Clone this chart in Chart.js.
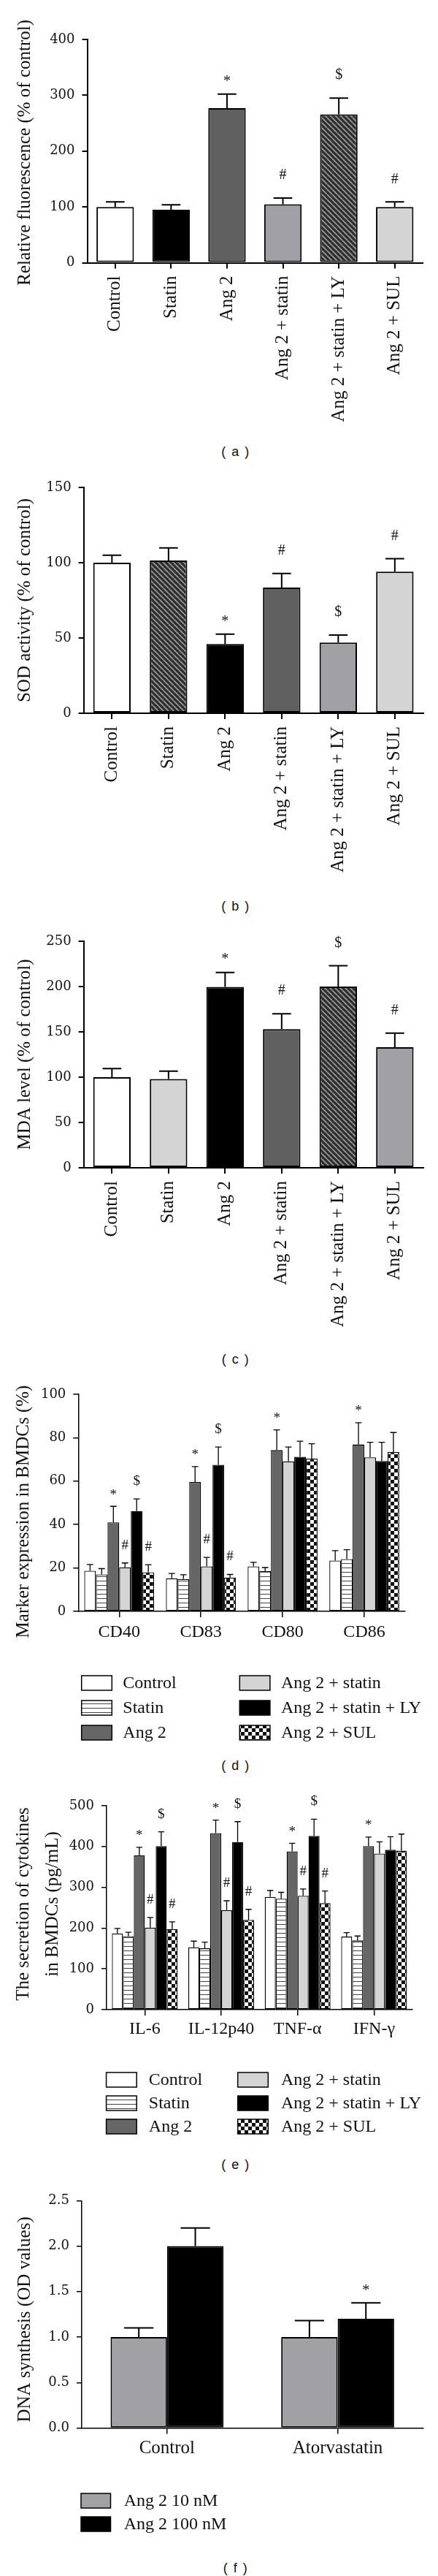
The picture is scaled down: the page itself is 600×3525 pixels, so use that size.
<!DOCTYPE html>
<html>
<head>
<meta charset="utf-8">
<title>Figure</title>
<script src="https://cdn.jsdelivr.net/npm/chart.js@4.4.1/dist/chart.umd.min.js"></script>
<style>
  html, body { margin:0; padding:0; background:#ffffff; }
  body { width:600px; height:3525px; position:relative; overflow:hidden; }
  canvas { position:absolute; left:0; }
  .tag { position:absolute; left:263px; width:120px; text-align:center; font-family:"Liberation Sans", Arial, sans-serif; font-size:18px; letter-spacing:1.5px; line-height:20px; color:#111; white-space:pre; }
</style>
</head>
<body>
<canvas id="chartA" width="600" height="600" style="top:0px"></canvas>
<canvas id="chartB" width="600" height="590" style="top:630px"></canvas>
<canvas id="chartC" width="600" height="590" style="top:1250px"></canvas>
<canvas id="chartD" width="600" height="530" style="top:1870px"></canvas>
<canvas id="chartE" width="600" height="515" style="top:2430px"></canvas>
<canvas id="chartF" width="600" height="515" style="top:2975px"></canvas>
<div class="tag" style="top:608px">( a )</div>
<div class="tag" style="top:1230px">( b )</div>
<div class="tag" style="top:1850px">( c )</div>
<div class="tag" style="top:2406px">( d )</div>
<div class="tag" style="top:2952px">( e )</div>
<div class="tag" style="top:3504px">( f )</div>
<script>
// ---------------- DATA ----------------
const treatmentGroups = ["Control", "Statin", "Ang 2", "Ang 2 + statin", "Ang 2 + statin + LY", "Ang 2 + SUL"];

// (a) Relative fluorescence
const fluorMean  = [100, 95, 277, 105, 266, 100];
const fluorErr   = [9, 9, 25, 11, 29, 9];
const fluorMarks = ["", "", "*", "#", "$", "#"];
const fluorTicks = [0, 100, 200, 300, 400];

// (b) SOD activity
const sodMean  = [100, 101.5, 46, 83.5, 47, 94];
const sodErr   = [5, 8.3, 6.5, 9.3, 5, 8.7];
const sodMarks = ["", "", "*", "#", "$", "#"];
const sodTicks = [0, 50, 100, 150];

// (c) MDA level
const mdaMean  = [100, 98, 199.5, 153, 200, 133];
const mdaErr   = [9.4, 8.6, 16, 17, 23, 15.6];
const mdaMarks = ["", "", "*", "#", "$", "#"];
const mdaTicks = [0, 50, 100, 150, 200, 250];

// (d) Marker expression
const markerNames = ["CD40", "CD83", "CD80", "CD86"];
const cdControl      = [18.7, 15.2, 20.7, 23.4];
const cdControlErr   = [2.9, 2.3, 1.9, 4.6];
const cdStatin       = [17.0, 14.9, 18.5, 24.1];
const cdStatinErr    = [2.7, 2.0, 1.7, 4.3];
const cdAng2         = [41.0, 59.6, 74.3, 76.9];
const cdAng2Err      = [7.4, 7.1, 9.3, 10.0];
const cdAng2Statin   = [20.3, 20.7, 69.1, 71.0];
const cdAng2StatinErr= [2.0, 4.2, 6.6, 6.9];
const cdLY           = [46.2, 67.5, 71.2, 69.3];
const cdLYErr        = [5.6, 8.2, 7.2, 8.6];
const cdSUL          = [18.0, 15.6, 70.4, 73.4];
const cdSULErr       = [3.5, 1.4, 6.8, 9.0];
const cdAng2Marks    = ["*", "*", "*", "*"];
const cdStatinMarks  = ["#", "#", "", ""];
const cdLYMarks      = ["$", "$", "", ""];
const cdSULMarks     = ["#", "#", "", ""];
const cdTicks = [0, 20, 40, 60, 80, 100];

// (e) Cytokines
const cytokineNames = ["IL-6", "IL-12p40", "TNF-\u03B1", "IFN-\u03B3"];
const ckControl      = [187, 153, 276.5, 179];
const ckControlErr   = [12, 15, 15.6, 10];
const ckStatin       = [180, 150.4, 272, 169.6];
const ckStatinErr    = [9.6, 15, 15.6, 11];
const ckAng2         = [378, 433, 388, 401];
const ckAng2Err      = [20, 32, 20, 22];
const ckAng2Statin   = [201, 244, 279, 382.6];
const ckAng2StatinErr= [25, 23, 17, 29];
const ckLY           = [401, 411, 426, 392];
const ckLYErr        = [35, 50, 41, 32];
const ckSUL          = [197.4, 220, 261, 389.6];
const ckSULErr       = [18, 26, 30, 41];
const ckAng2Marks    = ["*", "*", "*", "*"];
const ckStatinMarks  = ["#", "#", "#", ""];
const ckLYMarks      = ["$", "$", "$", ""];
const ckSULMarks     = ["#", "#", "#", ""];
const ckTicks = [0, 100, 200, 300, 400, 500];

// (f) DNA synthesis
const dnaGroups   = ["Control", "Atorvastatin"];
const dnaSeries   = ["Ang 2 10 nM", "Ang 2 100 nM"];
const dna10       = [1.0, 1.0];
const dna10Err    = [0.1, 0.18];
const dna100      = [2.0, 1.2];
const dna100Err   = [0.2, 0.175];
const dna100Marks = ["", "*"];
const dnaTicks = [0, 0.5, 1.0, 1.5, 2.0, 2.5];

// ---------------- STYLE ----------------
const TEXT_FONT = "'Liberation Serif', 'Times New Roman', serif";
const NUM_FONT = "'DejaVu Serif', serif";

function makePattern(w, h, draw) {
  const c = document.createElement('canvas');
  c.width = w; c.height = h;
  const g = c.getContext('2d');
  draw(g, w, h);
  return g.createPattern(c, 'repeat');
}
const HATCH = makePattern(7, 7, (g, w, h) => {
  g.fillStyle = '#2e2e2e'; g.fillRect(0, 0, w, h);
  g.strokeStyle = '#9c9c9c'; g.lineWidth = 1.7;
  for (const o of [-w, 0, w]) { g.beginPath(); g.moveTo(o, 0); g.lineTo(o + w, h); g.stroke(); }
});
const HLINES = makePattern(8, 6, (g, w, h) => {
  g.fillStyle = '#ffffff'; g.fillRect(0, 0, w, h);
  g.fillStyle = '#444444'; g.fillRect(0, h - 1, w, 1);
});
const CHECKER = makePattern(10, 10, (g, w, h) => {
  g.fillStyle = '#ffffff'; g.fillRect(0, 0, w, h);
  g.fillStyle = '#111111'; g.fillRect(0, 0, 5, 5); g.fillRect(5, 5, 5, 5);
});
const WHITE = '#ffffff', BLACK = '#000000', DARK = '#606060', MID = '#a1a1a5', LIGHT = '#d4d4d4';

// ---------------- PLUGINS ----------------
const errorBarPlugin = {
  id: 'errorBars',
  afterDatasetsDraw(chart, args, o) {
    const ctx = chart.ctx, ys = chart.scales.y;
    chart.data.datasets.forEach((ds, di) => {
      const meta = chart.getDatasetMeta(di);
      meta.data.forEach((bar, i) => {
        const p = bar.getProps(['x', 'y', 'width'], true);
        const yTop = ys.getPixelForValue(ds.data[i] + ds.errors[i]);
        const half = p.width * o.cap / 2;
        ctx.save();
        ctx.strokeStyle = '#000'; ctx.lineWidth = o.lw;
        ctx.beginPath();
        ctx.moveTo(p.x, p.y); ctx.lineTo(p.x, yTop);
        ctx.moveTo(p.x - half, yTop); ctx.lineTo(p.x + half, yTop);
        ctx.stroke();
        const m = ds.marks ? ds.marks[i] : '';
        if (m) {
          ctx.fillStyle = '#111';
          ctx.font = o.size + "px " + TEXT_FONT;
          ctx.textAlign = 'center'; ctx.textBaseline = 'middle';
          const off = m === '*' ? o.star - 0.12 * o.size : o.other;
          ctx.fillText(m, p.x, yTop - off);
        }
        ctx.restore();
      });
    });
  }
};

const yTitlePlugin = {
  id: 'yTitle',
  afterDraw(chart, args, o) {
    if (!o.lines || !o.lines.length) return;
    const ctx = chart.ctx, ca = chart.chartArea;
    const cy = (ca.top + ca.bottom) / 2 + o.shift;
    ctx.save();
    ctx.fillStyle = '#111';
    ctx.font = o.size + "px " + TEXT_FONT;
    ctx.textAlign = 'center'; ctx.textBaseline = 'middle';
    for (let i = 0; i < o.lines.length; i++) {
      ctx.save();
      ctx.translate(o.x + i * o.gap, cy);
      ctx.rotate(-Math.PI / 2);
      ctx.fillText(o.lines[i], 0, 0);
      ctx.restore();
    }
    ctx.restore();
  }
};

const panelLegendPlugin = {
  id: 'panelLegend',
  afterDraw(chart, args, o) {
    if (!o.rows || !o.rows.length) return;
    const ctx = chart.ctx;
    const nRows = o.rows.length;
    chart.data.datasets.forEach((ds, i) => {
      const col = Math.floor(i / nRows), row = i % nRows;
      const cy = o.rows[row] - o.top;
      const bx = o.boxX[col];
      ctx.save();
      ctx.fillStyle = ds.backgroundColor;
      ctx.fillRect(bx, cy - o.boxH / 2, o.boxW, o.boxH);
      ctx.strokeStyle = '#000'; ctx.lineWidth = 1.5;
      ctx.strokeRect(bx, cy - o.boxH / 2, o.boxW, o.boxH);
      ctx.fillStyle = '#111';
      ctx.font = o.size + "px " + TEXT_FONT;
      ctx.textAlign = 'left'; ctx.textBaseline = 'middle';
      ctx.fillText(ds.label, o.textX[col], cy + 1);
      ctx.restore();
    });
  }
};

// ---------------- BUILDER ----------------
function panelChart(spec) {
  const cv = document.getElementById(spec.id);
  const H = cv.height;
  return new Chart(cv, {
    type: 'bar',
    data: { labels: spec.labels, datasets: spec.datasets },
    options: {
      responsive: false, maintainAspectRatio: false, animation: false, devicePixelRatio: 1,
      events: [],
      layout: { padding: { left: 0, top: spec.chartTop - spec.top, right: 600 - spec.right, bottom: 0 } },
      datasets: { bar: { categoryPercentage: spec.catPct, barPercentage: spec.barPct, borderColor: '#000', borderWidth: spec.bw, borderSkipped: false } },
      scales: {
        x: {
          type: 'category', offset: true,
          grid: { display: true, offset: false, drawOnChartArea: false, drawTicks: true, tickLength: 8, color: '#000', lineWidth: spec.aw },
          border: { display: true, color: '#000', width: spec.aw },
          ticks: { autoSkip: false, minRotation: spec.rot, maxRotation: spec.rot, padding: spec.xPad, color: '#111', font: { family: TEXT_FONT, size: spec.xFont } },
          afterFit: (s) => { s.height = spec.top + H - spec.chartBottom; }
        },
        y: {
          min: 0, max: spec.ticks[spec.ticks.length - 1],
          afterBuildTicks: (s) => { s.ticks = spec.ticks.map(v => ({ value: v })); },
          grid: { display: true, drawOnChartArea: false, drawTicks: true, tickLength: 7, color: '#000', lineWidth: spec.aw },
          border: { display: true, color: '#000', width: spec.aw },
          ticks: { padding: 10, color: '#111', font: { family: NUM_FONT, size: 18 }, callback: spec.tickFmt || ((v) => String(v)) },
          afterFit: (s) => { s.width = spec.left; }
        }
      },
      plugins: {
        legend: { display: false }, tooltip: { enabled: false },
        errorBars: { lw: spec.ew, cap: spec.cap, size: spec.markSize, star: spec.offStar, other: spec.offOther },
        yTitle: { lines: spec.title, x: spec.titleX, gap: 40, shift: spec.titleShift || 0, size: 25 },
        panelLegend: spec.legend ? Object.assign({ top: spec.top, size: 24, boxW: 41.6, boxH: 20 }, spec.legend) : { rows: [] }
      }
    },
    plugins: [errorBarPlugin, yTitlePlugin, panelLegendPlugin]
  });
}

const single = { rot: 90, xPad: 10, xFont: 25, catPct: 1, bw: 2, aw: 2, ew: 2, cap: 0.5, markSize: 20, offStar: 20, offOther: 31 };

panelChart(Object.assign({}, single, {
  id: 'chartA', top: 0, left: 119.5, right: 579, chartTop: 54, chartBottom: 359.6, barPct: 0.67,
  labels: treatmentGroups, ticks: fluorTicks,
  title: ["Relative fluorescence (% of control)"], titleX: 34, titleShift: 2,
  datasets: [{ data: fluorMean, errors: fluorErr, marks: fluorMarks, backgroundColor: [WHITE, BLACK, DARK, MID, HATCH, LIGHT] }]
}));

panelChart(Object.assign({}, single, {
  id: 'chartB', top: 630, left: 114.6, right: 579.6, chartTop: 667, chartBottom: 976, barPct: 0.662,
  labels: treatmentGroups, ticks: sodTicks,
  title: ["SOD activity (% of control)"], titleX: 34.5, titleShift: 0,
  datasets: [{ data: sodMean, errors: sodErr, marks: sodMarks, backgroundColor: [WHITE, HATCH, BLACK, DARK, MID, LIGHT] }]
}));

panelChart(Object.assign({}, single, {
  id: 'chartC', top: 1250, left: 114.6, right: 579.6, chartTop: 1288, chartBottom: 1598, barPct: 0.662,
  labels: treatmentGroups, ticks: mdaTicks,
  title: ["MDA level (% of control)"], titleX: 34.5, titleShift: 0,
  datasets: [{ data: mdaMean, errors: mdaErr, marks: mdaMarks, backgroundColor: [WHITE, LIGHT, BLACK, DARK, HATCH, MID] }]
}));

const groupFills = [WHITE, HLINES, '#666666', LIGHT, BLACK, CHECKER];
const grouped = { rot: 0, xFont: 24, barPct: 1, bw: 1.3, aw: 1.5, ew: 1.3, cap: 0.55, markSize: 19, offStar: 18, offOther: 24 };

const cdMeans = [cdControl, cdStatin, cdAng2, cdAng2Statin, cdLY, cdSUL];
const cdErrs = [cdControlErr, cdStatinErr, cdAng2Err, cdAng2StatinErr, cdLYErr, cdSULErr];
const cdMarks = [null, null, cdAng2Marks, cdStatinMarks, cdLYMarks, cdSULMarks];
panelChart(Object.assign({}, grouped, {
  id: 'chartD', top: 1870, left: 107.3, right: 555, chartTop: 1908, chartBottom: 2205, catPct: 0.855, xPad: 6,
  labels: markerNames, ticks: cdTicks,
  title: ["Marker expression in BMDCs (%)"], titleX: 32.6, titleShift: 12,
  legend: { rows: [2303, 2337, 2371], boxX: [111.7, 328.3], textX: [168.3, 385] },
  datasets: treatmentGroups.map((g, i) => ({ label: g, data: cdMeans[i], errors: cdErrs[i], marks: cdMarks[i], backgroundColor: groupFills[i] }))
}));

const ckMeans = [ckControl, ckStatin, ckAng2, ckAng2Statin, ckLY, ckSUL];
const ckErrs = [ckControlErr, ckStatinErr, ckAng2Err, ckAng2StatinErr, ckLYErr, ckSULErr];
const ckMarks = [null, null, ckAng2Marks, ckStatinMarks, ckLYMarks, ckSULMarks];
panelChart(Object.assign({}, grouped, {
  id: 'chartE', top: 2430, left: 146, right: 564.7, chartTop: 2471, chartBottom: 2750, catPct: 0.86, xPad: 4,
  labels: cytokineNames, ticks: ckTicks,
  title: ["The secretion of cytokines", "in BMDCs (pg/mL)"], titleX: 32.6, titleShift: -5,
  legend: { rows: [2846, 2878, 2910], boxX: [145.6, 325.7], textX: [203.8, 385] },
  datasets: treatmentGroups.map((g, i) => ({ label: g, data: ckMeans[i], errors: ckErrs[i], marks: ckMarks[i], backgroundColor: groupFills[i] }))
}));

panelChart({
  id: 'chartF', top: 2975, left: 112, right: 579.4, chartTop: 3011.3, chartBottom: 3322.5,
  rot: 0, xFont: 25, xPad: 5, catPct: 0.662, barPct: 1, bw: 2, aw: 1.5, ew: 2, cap: 0.52, markSize: 20, offStar: 18.5, offOther: 24,
  labels: dnaGroups, ticks: dnaTicks, tickFmt: (v) => Number(v).toFixed(1),
  title: ["DNA synthesis (OD values)"], titleX: 34.5, titleShift: 7,
  legend: { rows: [3422, 3454], boxX: [111], textX: [169.7], boxW: 40.5 },
  datasets: [
    { label: dnaSeries[0], data: dna10, errors: dna10Err, marks: null, backgroundColor: MID },
    { label: dnaSeries[1], data: dna100, errors: dna100Err, marks: dna100Marks, backgroundColor: BLACK }
  ]
});
</script>
</body>
</html>
